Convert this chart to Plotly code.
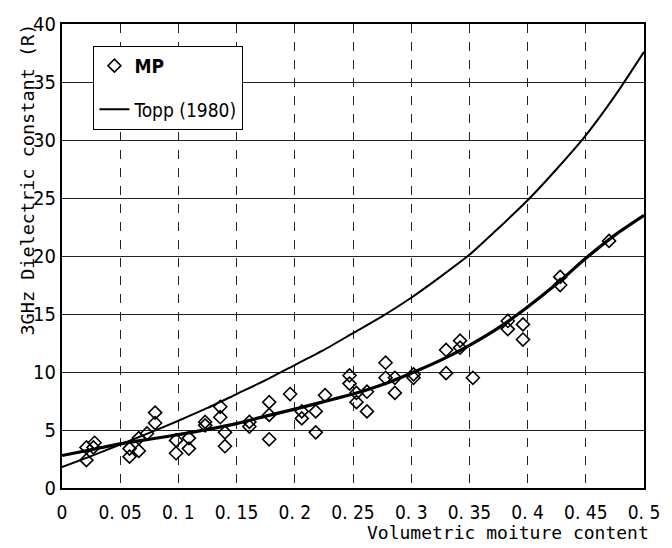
import plotly.graph_objects as go

# MP measurements (volumetric moisture, dielectric constant)
mp_x = [0.021, 0.021, 0.028, 0.027, 0.058, 0.058, 0.066, 0.066, 0.073, 0.080,
        0.080, 0.098, 0.098, 0.109, 0.109, 0.123, 0.123, 0.136, 0.136, 0.140,
        0.140, 0.161, 0.161, 0.178, 0.178, 0.178, 0.196, 0.206, 0.206, 0.218,
        0.218, 0.226, 0.247, 0.247, 0.253, 0.253, 0.262, 0.262, 0.278, 0.278,
        0.286, 0.286, 0.302, 0.302, 0.330, 0.330, 0.342, 0.342, 0.353, 0.383,
        0.383, 0.396, 0.396, 0.428, 0.428, 0.470]
mp_y = [2.4, 3.5, 3.9, 3.5, 2.7, 3.4, 3.2, 4.3, 4.7, 6.5,
        5.6, 4.1, 3.0, 4.3, 3.4, 5.7, 5.4, 7.0, 6.1, 4.8,
        3.6, 5.7, 5.3, 7.4, 6.3, 4.2, 8.1, 6.6, 6.0, 6.6,
        4.8, 8.0, 9.7, 9.0, 8.2, 7.4, 8.3, 6.6, 10.8, 9.5,
        9.5, 8.2, 9.8, 9.5, 11.9, 9.9, 12.7, 12.1, 9.5, 14.4,
        13.7, 14.1, 12.8, 18.2, 17.5, 21.3]

# fitted MP curve (thick)
fit_x = [0, 0.025, 0.05, 0.075, 0.1, 0.125, 0.15, 0.175, 0.2, 0.225, 0.25,
         0.275, 0.3, 0.325, 0.35, 0.375, 0.4, 0.425, 0.45, 0.475, 0.5]
fit_y = [2.8, 3.3, 3.8, 4.2, 4.6, 5.05, 5.55, 6.2, 6.8, 7.45, 8.1,
         8.9, 9.9, 11.0, 12.3, 13.8, 15.6, 17.6, 19.8, 21.8, 23.5]

# Topp (1980) curve (thin)
topp_x = [0, 0.025, 0.05, 0.075, 0.1, 0.125, 0.15, 0.175, 0.2, 0.225, 0.25,
          0.275, 0.3, 0.325, 0.35, 0.375, 0.4, 0.425, 0.45, 0.475, 0.5]
topp_y = [1.8, 2.75, 3.75, 4.75, 5.8, 6.9, 8.1, 9.3, 10.6, 11.9, 13.35,
          14.8, 16.4, 18.2, 20.1, 22.4, 24.8, 27.5, 30.4, 33.8, 37.6]

x_ticks = [0, 0.05, 0.1, 0.15, 0.2, 0.25, 0.3, 0.35, 0.4, 0.45, 0.5]
x_tick_text = ["0", "0. 05", "0. 1", "0. 15", "0. 2", "0. 25", "0. 3",
               "0. 35", "0. 4", "0. 45", "0. 5"]
y_ticks = [0, 5, 10, 15, 20, 25, 30, 35, 40]

FONT = "DejaVu Sans Condensed, Liberation Sans Narrow, DejaVu Sans, sans-serif"
MONO = "DejaVu Sans Mono, Liberation Mono, monospace"

fig = go.Figure()
fig.add_trace(go.Scatter(
    x=mp_x, y=mp_y, mode="markers", name="<b>MP</b>", legendgroup="a",
    marker=dict(symbol="diamond-open", size=10, color="black",
                line=dict(width=1.6, color="black"))))
fig.add_trace(go.Scatter(
    x=fit_x, y=fit_y, mode="lines", showlegend=False,
    line=dict(color="black", width=3.2, shape="spline", smoothing=0.6)))
fig.add_trace(go.Scatter(
    x=topp_x, y=topp_y, mode="lines", name="Topp (1980)", legendgroup="b",
    line=dict(color="black", width=2, shape="spline", smoothing=0.6)))

fig.update_layout(
    width=672, height=548,
    margin=dict(l=62, r=17, t=20, b=60),
    paper_bgcolor="white", plot_bgcolor="white",
    font=dict(family=FONT, size=18, color="black"),
    showlegend=True,
    legend=dict(x=0.054, y=0.953, xanchor="left", yanchor="top",
                bgcolor="white", bordercolor="black", borderwidth=1,
                font=dict(family=FONT, size=19), tracegroupgap=16,
                itemwidth=30, entrywidth=128, entrywidthmode="pixels"),
    xaxis=dict(range=[0, 0.5], tickvals=x_ticks, ticktext=x_tick_text,
               showgrid=True, gridcolor="#222", griddash="dash", gridwidth=1,
               showline=True, linecolor="black", linewidth=2, mirror=True,
               zeroline=False, ticks="", tickfont=dict(size=19),
               ticklabelstandoff=6),
    yaxis=dict(range=[0, 40], tickvals=y_ticks,
               showgrid=True, gridcolor="#222", gridwidth=1,
               showline=True, linecolor="black", linewidth=2, mirror=True,
               zeroline=False, ticks="", tickfont=dict(size=20)),
    annotations=[
        dict(text="Volumetric moiture content", xref="paper", yref="paper",
             x=1.012, y=-0.07, xanchor="right", yanchor="top", showarrow=False,
             font=dict(family=MONO, size=18)),
        dict(text="3GHz Dielectric constant (R)", xref="paper", yref="paper",
             x=-0.06, y=0.665, xanchor="center", yanchor="middle",
             textangle=-90, showarrow=False,
             font=dict(family=MONO, size=18.5)),
    ],
)

fig.write_html("out.html")
